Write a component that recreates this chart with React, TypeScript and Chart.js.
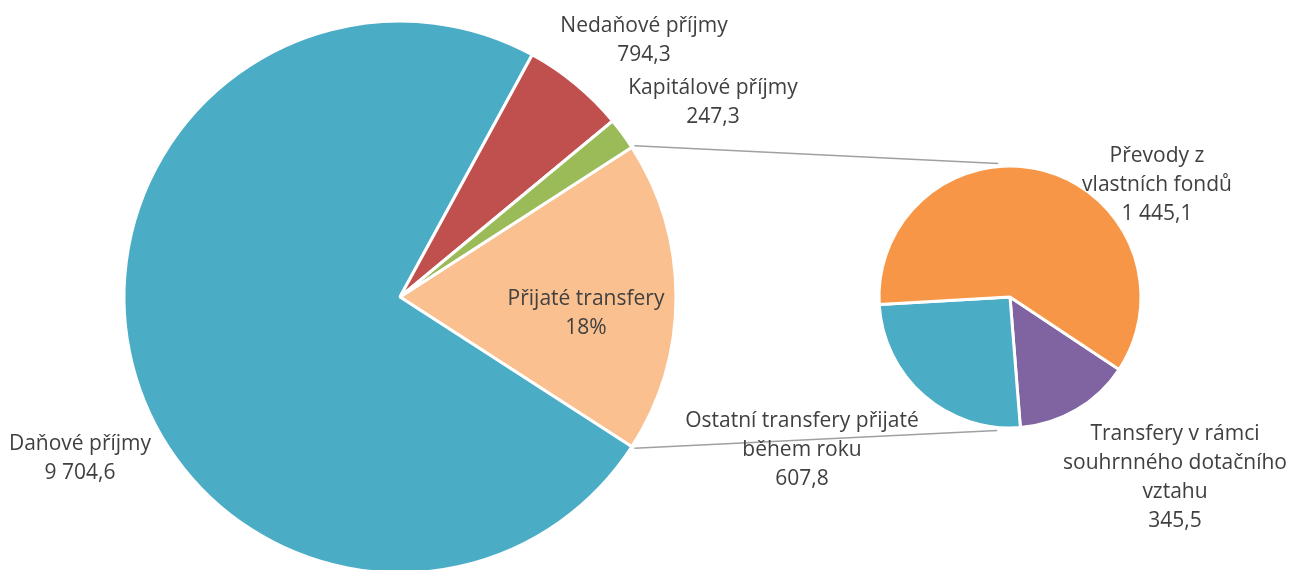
import React, { useEffect, useRef } from "react";
import { Chart, registerables } from "chart.js";

Chart.register(...registerables);

// ---- data ----
const secondaryCategories = [
  "Transfery v rámci souhrnného dotačního vztahu",
  "Ostatní transfery přijaté během roku",
  "Převody z vlastních fondů",
];
const secondaryValues = [345.5, 607.8, 1445.1];
const secondaryLabelLines = [
  ["Transfery v rámci", "souhrnného dotačního", "vztahu"],
  ["Ostatní transfery přijaté", "během roku"],
  ["Převody z", "vlastních fondů"],
];

const mainCategories = ["Přijaté transfery", "Daňové příjmy", "Nedaňové příjmy", "Kapitálové příjmy"];
const transfersTotal = secondaryValues.reduce((a, b) => a + b, 0);
const mainValues = [transfersTotal, 9704.6, 794.3, 247.3];
const mainLabelLines = [["Přijaté transfery"], ["Daňové příjmy"], ["Nedaňové příjmy"], ["Kapitálové příjmy"]];
const mainShowPercent = [true, false, false, false];

// ---- styles / layout ----
const mainColors = ["#FAC090", "#4BACC6", "#C0504D", "#9BBB59"];
const secondaryColors = ["#8064A2", "#4BACC6", "#F79646"];
// label offsets (dx = block centre x, dy = first baseline) relative to pie centre
const mainLabelOffsets = [
  { dx: 186, dy: 8 },
  { dx: -320, dy: 153 },
  { dx: 244, dy: -265 },
  { dx: 313, dy: -203 },
];
const secondaryLabelOffsets = [
  { dx: 165, dy: 143 },
  { dx: -208, dy: 130 },
  { dx: 147, dy: -135 },
];
const W = 1290;
const H = 570;
const CH = 600;
const FONT = '21px "Open Sans"';
const TEXT = "#404040";
const LINE_H = 29;

function fmt(v: number): string {
  const [i, d] = v.toFixed(1).split(".");
  const grouped = i.replace(/\B(?=(\d{3})+(?!\d))/g, " ");
  return grouped + "," + d;
}

function makeLabelPlugin(
  lines: string[][],
  offsets: { dx: number; dy: number }[],
  values: number[],
  percent: boolean[] | null
) {
  return {
    id: "sliceLabels",
    afterDatasetsDraw(chart: any) {
      const ctx = chart.ctx;
      const meta = chart.getDatasetMeta(0);
      const total = values.reduce((a, b) => a + b, 0);
      ctx.save();
      ctx.font = FONT;
      ctx.fillStyle = TEXT;
      ctx.textAlign = "center";
      ctx.textBaseline = "alphabetic";
      meta.data.forEach((arc: any, i: number) => {
        const valueText =
          percent && percent[i] ? Math.round((values[i] / total) * 100) + "%" : fmt(values[i]);
        const all = [...lines[i], valueText];
        const x = arc.x + offsets[i].dx;
        const y0 = arc.y + offsets[i].dy;
        all.forEach((t, k) => ctx.fillText(t, x, y0 + k * LINE_H));
      });
      ctx.restore();
    },
  };
}

export default function App() {
  const mainRef = useRef<HTMLCanvasElement | null>(null);
  const secRef = useRef<HTMLCanvasElement | null>(null);

  useEffect(() => {
    if (!mainRef.current || !secRef.current) return;
    const mainChart = new Chart(mainRef.current, {
      type: "pie",
      data: {
        labels: mainCategories,
        datasets: [
          {
            data: mainValues,
            backgroundColor: mainColors,
            borderColor: "#FFFFFF",
            borderWidth: 3,
          },
        ],
      },
      options: {
        animation: false,
        responsive: false,
        devicePixelRatio: 1,
        rotation: 90 - ((transfersTotal / mainValues.reduce((a, b) => a + b, 0)) * 360) / 2,
        radius: 276,
        layout: { padding: { left: 0, top: 0, right: W - 800, bottom: CH - 594 } },
        plugins: { legend: { display: false }, tooltip: { enabled: false } },
        events: [],
      },
      plugins: [makeLabelPlugin(mainLabelLines, mainLabelOffsets, mainValues, mainShowPercent)],
    } as any);

    const connector = {
      id: "connector",
      beforeDatasetsDraw(chart: any) {
        const mArc: any = mainChart.getDatasetMeta(0).data[0];
        const sArc: any = chart.getDatasetMeta(0).data[0];
        if (!mArc || !sArc) return;
        const R = mArc.outerRadius + 3;
        const r = sArc.outerRadius + 3;
        const a1 = mArc.startAngle;
        const a2 = mArc.endAngle;
        const b1 = (-95 * Math.PI) / 180;
        const b2 = (95.5 * Math.PI) / 180;
        const ctx = chart.ctx;
        ctx.save();
        ctx.strokeStyle = "#A0A0A0";
        ctx.lineWidth = 1.5;
        ctx.beginPath();
        ctx.moveTo(mArc.x + R * Math.cos(a1), mArc.y + R * Math.sin(a1));
        ctx.lineTo(sArc.x + r * Math.cos(b1), sArc.y + r * Math.sin(b1));
        ctx.moveTo(mArc.x + R * Math.cos(a2), mArc.y + R * Math.sin(a2));
        ctx.lineTo(sArc.x + r * Math.cos(b2), sArc.y + r * Math.sin(b2));
        ctx.stroke();
        ctx.restore();
      },
    };

    const secChart = new Chart(secRef.current, {
      type: "pie",
      data: {
        labels: secondaryCategories,
        datasets: [
          {
            data: secondaryValues,
            backgroundColor: secondaryColors,
            borderColor: "#FFFFFF",
            borderWidth: 3,
          },
        ],
      },
      options: {
        animation: false,
        responsive: false,
        devicePixelRatio: 1,
        rotation: 123.6,
        radius: 131,
        layout: { padding: { left: 879, top: 166, right: W - 1141, bottom: CH - 428 } },
        plugins: { legend: { display: false }, tooltip: { enabled: false } },
        events: [],
      },
      plugins: [connector, makeLabelPlugin(secondaryLabelLines, secondaryLabelOffsets, secondaryValues, null)],
    } as any);

    return () => {
      secChart.destroy();
      mainChart.destroy();
    };
  }, []);

  return (
    <div
      style={{
        position: "absolute",
        left: 0,
        top: 0,
        width: W,
        height: H,
        overflow: "hidden",
        background: "#FFFFFF",
      }}
    >
      <canvas ref={mainRef} width={W} height={CH} style={{ position: "absolute", left: 0, top: 0 }} />
      <canvas ref={secRef} width={W} height={CH} style={{ position: "absolute", left: 0, top: 0 }} />
    </div>
  );
}
